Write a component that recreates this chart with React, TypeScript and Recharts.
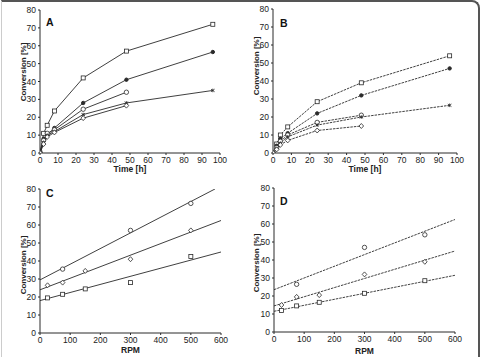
import React from 'react';
import { ComposedChart, Line, Scatter, XAxis, YAxis, Label } from 'recharts';

// sampling times [h] for panels A and B
const TIME = [0, 2, 4, 8, 24, 48, 96];

const A_SQUARE = [0, 11, 15.5, 23.5, 42, 57, 72];
const A_DOT = [0, 8, 10, 14, 28, 41, 56.5];
const A_CIRCLE = [0, 7, 11, 13, 24.5, 34, null];
const A_CROSS = [0, 6, 10, 12, 21.5, 28, 35];
const A_DIAMOND = [0, 5, 9, 11.5, 19.5, 26.5, null];

const B_SQUARE = [0, 5, 10, 14.5, 28.5, 39, 54];
const B_DOT = [0, 4, 8, 11, 22, 32, 47];
const B_CIRCLE = [0, 3, 6.5, 10, 17, 21, null];
const B_CROSS = [0, 2.5, 5.5, 9, 15.5, 20, 26.5];
const B_DIAMOND = [0, 2, 4.5, 7, 12.5, 15, null];

// stirring speed [RPM] for panels C and D
const RPM = [25, 75, 150, 300, 500];

const C_CIRCLE = [null, 35.5, null, 57, 72];
const C_DIAMOND = [26.5, 28, 34.5, 41, 57];
const C_SQUARE = [19.5, 21.5, 24.5, 28, 42.5];
const C_FIT_X = [0, 580, 600];
const C_FIT_TOP = [29.5, 80, null];
const C_FIT_MID = [24, null, 62.5];
const C_FIT_LOW = [18, null, 45];

const D_CIRCLE = [null, 26.5, null, 47, 54];
const D_DIAMOND = [15, 19.5, 20.5, 32, 39];
const D_SQUARE = [12, 14.5, 16.5, 21.5, 28.5];
const D_FIT_X = [0, 600];
const D_FIT_TOP = [23.5, 62.5];
const D_FIT_MID = [14.5, 45];
const D_FIT_LOW = [11.5, 31.5];

const Y_TICKS = [0, 10, 20, 30, 40, 50, 60, 70, 80];
const TIME_TICKS = [0, 10, 20, 30, 40, 50, 60, 70, 80, 90, 100];
const RPM_TICKS = [0, 100, 200, 300, 400, 500, 600];

const INK = '#2a2a2a';
const FONT = '"Liberation Sans", Arial, sans-serif';

const pts = (xs: number[], ys: (number | null)[]) =>
  xs.map((x, i) => ({ x, y: ys[i] })).filter((p) => p.y !== null);

const marker = (kind: string, cx: number, cy: number, key?: any) => {
  if (cx == null || cy == null) return <g key={key} />;
  if (kind === 'square')
    return <rect key={key} x={cx - 2} y={cy - 2} width={4} height={4} fill="#fff" stroke={INK} strokeWidth={0.8} />;
  if (kind === 'dot') return <circle key={key} cx={cx} cy={cy} r={1.7} fill={INK} stroke={INK} />;
  if (kind === 'circle') return <circle key={key} cx={cx} cy={cy} r={2.2} fill="#fff" stroke={INK} strokeWidth={0.8} />;
  if (kind === 'diamond')
    return (
      <path key={key} d={`M${cx},${cy - 2.5}L${cx + 2.3},${cy}L${cx},${cy + 2.5}L${cx - 2.3},${cy}Z`} fill="#fff" stroke={INK} strokeWidth={0.8} />
    );
  return (
    <path key={key} d={`M${cx - 1.8},${cy - 1.3}L${cx + 1.8},${cy + 1.3}M${cx - 1.8},${cy + 1.3}L${cx + 1.8},${cy - 1.3}M${cx},${cy - 1.8}L${cx},${cy + 1.8}`} stroke={INK} strokeWidth={0.8} />
  );
};

interface Series { kind: string; data: { x: number; y: number | null }[] }

interface PanelProps {
  left: number; top: number; width: number; height: number;
  margin: { top: number; right: number; left: number; bottom: number };
  yWidth: number; xHeight: number;
  letter: string; letterPos: [number, number];
  yLabelX: number; yLabelY: number; xLabelY: number;
  xLabel: string; xDomain: [number, number]; xTicks: number[];
  curves?: Series[]; points?: Series[]; fits?: { x: number; y: number | null }[][];
  dashed?: boolean;
}

const Panel = (p: PanelProps) => {
  const dash = p.dashed ? '2.5 1' : undefined;
  const plotLeft = p.margin.left + p.yWidth;
  const plotRight = p.width - p.margin.right;
  return (
    <div style={{ position: 'absolute', left: p.left, top: p.top }}>
      <ComposedChart width={p.width} height={p.height} margin={p.margin}>
        <XAxis
          type="number"
          dataKey="x"
          domain={p.xDomain}
          ticks={p.xTicks}
          height={p.xHeight}
          allowDataOverflow
          axisLine={{ stroke: INK }}
          tickLine={{ stroke: INK }}
          tickSize={2}
          tick={{ fill: '#222', fontSize: 8.5, fontFamily: FONT }}
        >
          <Label
            content={() => (
              <text x={(plotLeft + plotRight) / 2} y={p.xLabelY} textAnchor="middle" fontFamily={FONT} fontWeight="bold" fontSize={8.5} fill="#222">
                {p.xLabel}
              </text>
            )}
          />
        </XAxis>
        <YAxis
          type="number"
          dataKey="y"
          domain={[0, 80]}
          ticks={Y_TICKS}
          width={p.yWidth}
          allowDataOverflow
          axisLine={{ stroke: INK }}
          tickLine={{ stroke: INK }}
          tickSize={2}
          tick={{ fill: '#222', fontSize: 8.5, fontFamily: FONT }}
        >
          <Label
            content={() => (
              <g>
                <text
                  x={p.yLabelX}
                  y={p.yLabelY}
                  transform={`rotate(-90 ${p.yLabelX} ${p.yLabelY})`}
                  textAnchor="middle"
                  fontFamily={FONT}
                  fontWeight="bold"
                  fontSize={8}
                  fill="#222"
                >
                  Conversion [%]
                </text>
                <text x={p.letterPos[0]} y={p.letterPos[1]} fontFamily={FONT} fontWeight="bold" fontSize={10.5} fill="#111">
                  {p.letter}
                </text>
              </g>
            )}
          />
        </YAxis>
        {(p.fits || []).map((f, i) => (
          <Line key={`fit-${i}`} data={f} dataKey="y" type="linear" stroke={INK} strokeWidth={0.9} strokeDasharray={dash} dot={false} activeDot={false} isAnimationActive={false} />
        ))}
        {(p.curves || []).map((s, i) => (
          <Line
            key={`curve-${i}`}
            data={s.data}
            dataKey="y"
            type="linear"
            stroke={INK}
            strokeWidth={0.9}
            strokeDasharray={dash}
            dot={(d: any) => marker(s.kind, d.cx, d.cy, `${s.kind}-${d.index}`)}
            activeDot={false}
            isAnimationActive={false}
          />
        ))}
        {(p.points || []).map((s, i) => (
          <Scatter key={`pts-${i}`} data={s.data} dataKey="y" shape={(d: any) => marker(s.kind, d.cx, d.cy)} isAnimationActive={false} />
        ))}
      </ComposedChart>
    </div>
  );
};

export default function App() {
  const curvesA: Series[] = [
    { kind: 'square', data: pts(TIME, A_SQUARE) },
    { kind: 'dot', data: pts(TIME, A_DOT) },
    { kind: 'circle', data: pts(TIME, A_CIRCLE) },
    { kind: 'cross', data: pts(TIME, A_CROSS) },
    { kind: 'diamond', data: pts(TIME, A_DIAMOND) },
  ];
  const curvesB: Series[] = [
    { kind: 'square', data: pts(TIME, B_SQUARE) },
    { kind: 'dot', data: pts(TIME, B_DOT) },
    { kind: 'circle', data: pts(TIME, B_CIRCLE) },
    { kind: 'cross', data: pts(TIME, B_CROSS) },
    { kind: 'diamond', data: pts(TIME, B_DIAMOND) },
  ];
  const pointsC: Series[] = [
    { kind: 'circle', data: pts(RPM, C_CIRCLE) },
    { kind: 'diamond', data: pts(RPM, C_DIAMOND) },
    { kind: 'square', data: pts(RPM, C_SQUARE) },
  ];
  const pointsD: Series[] = [
    { kind: 'circle', data: pts(RPM, D_CIRCLE) },
    { kind: 'diamond', data: pts(RPM, D_DIAMOND) },
    { kind: 'square', data: pts(RPM, D_SQUARE) },
  ];
  const fitsC = [pts(C_FIT_X, C_FIT_TOP), pts(C_FIT_X, C_FIT_MID), pts(C_FIT_X, C_FIT_LOW)];
  const fitsD = [pts(D_FIT_X, D_FIT_TOP), pts(D_FIT_X, D_FIT_MID), pts(D_FIT_X, D_FIT_LOW)];

  return (
    <div style={{ position: 'absolute', left: 0, top: 0, width: 483, height: 357, background: '#fff', overflow: 'hidden' }}>
      <div
        style={{
          position: 'absolute', left: 1, top: 0, width: 479, height: 370, boxSizing: 'border-box',
          borderTop: '2px solid #555', borderRight: '2px solid #555', borderLeft: '1px solid #ccc',
          borderTopRightRadius: 8, pointerEvents: 'none',
        }}
      />
      <Panel
        left={0} top={0} width={240} height={180}
        margin={{ top: 10, right: 20, left: 0, bottom: 0 }} yWidth={40} xHeight={27}
        letter="A" letterPos={[46, 26]} yLabelX={26} yLabelY={72} xLabelY={172}
        xLabel="Time [h]" xDomain={[0, 100]} xTicks={TIME_TICKS} curves={curvesA}
      />
      <Panel
        left={240} top={0} width={243} height={180}
        margin={{ top: 9, right: 26, left: 0, bottom: 0 }} yWidth={33} xHeight={27}
        letter="B" letterPos={[40, 27]} yLabelX={19} yLabelY={66} xLabelY={172}
        xLabel="Time [h]" xDomain={[0, 100]} xTicks={TIME_TICKS} curves={curvesB} dashed
      />
      <Panel
        left={0} top={178} width={240} height={179}
        margin={{ top: 11, right: 19, left: 0, bottom: 0 }} yWidth={40} xHeight={24}
        letter="C" letterPos={[46, 19]} yLabelX={26} yLabelY={87} xLabelY={175}
        xLabel="RPM" xDomain={[0, 600]} xTicks={RPM_TICKS} points={pointsC} fits={fitsC}
      />
      <Panel
        left={240} top={178} width={243} height={179}
        margin={{ top: 10, right: 28, left: 0, bottom: 0 }} yWidth={34} xHeight={25}
        letter="D" letterPos={[40, 27]} yLabelX={19} yLabelY={85} xLabelY={176}
        xLabel="RPM" xDomain={[0, 600]} xTicks={RPM_TICKS} points={pointsD} fits={fitsD} dashed
      />
    </div>
  );
}
